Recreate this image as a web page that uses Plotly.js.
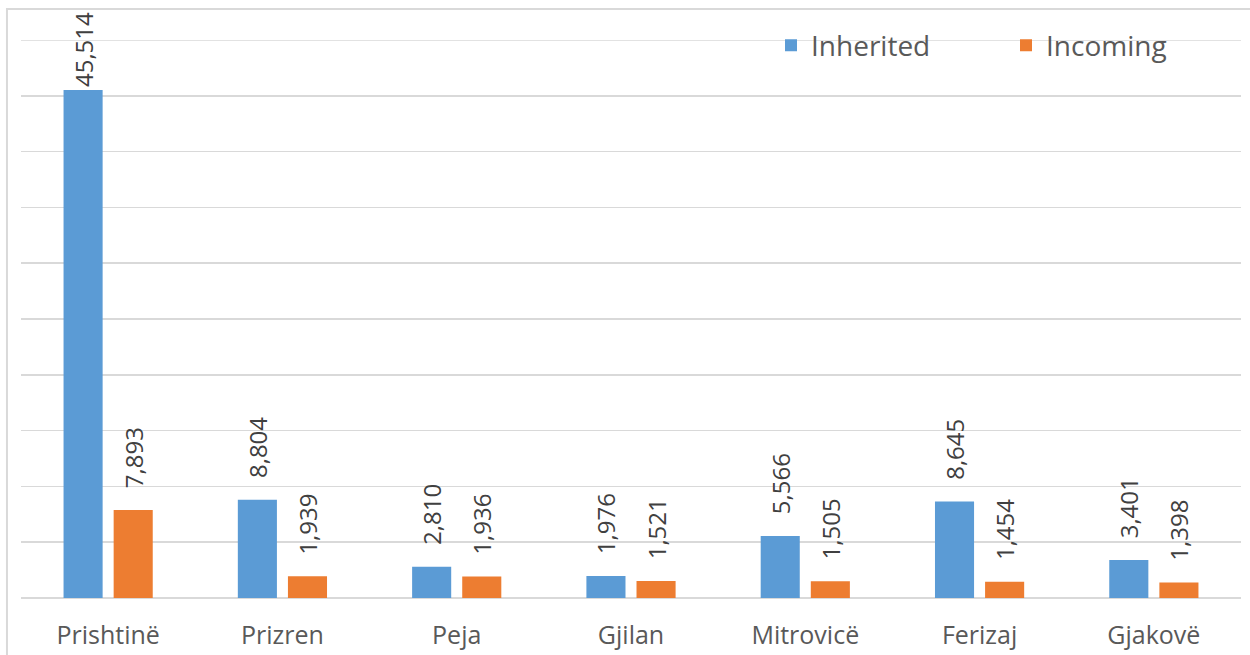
<!DOCTYPE html>
<html>
<head>
<meta charset="utf-8">
<script src="https://cdn.plot.ly/plotly-3.0.1.min.js"></script>
<style>html,body{margin:0;padding:0;background:#fff;}#chart{width:1250px;height:655px;}</style>
</head>
<body>
<div id="chart"></div>
<script>
const categories = ["Prishtinë", "Prizren", "Peja", "Gjilan", "Mitrovicë", "Ferizaj", "Gjakovë"];
const inherited = [45514, 8804, 2810, 1976, 5566, 8645, 3401];
const incoming = [7893, 1939, 1936, 1521, 1505, 1454, 1398];
const seriesNames = ["Inherited", "Incoming"];

const FONT = "Open Sans, Lato, sans-serif";
const labelFont = {family: FONT, size: 24, color: "#404040"};
const YMAX = 50000;
const PAD = "\u00a0\u00a0\u00a0";
// Labels sit a little above bars; labels that would leave the chart area stay unpadded
const tmpl = vals => vals.map(v => (v > 0.8 * YMAX ? "" : PAD) + "%{y:,}");

const traces = [
  {type: "bar", name: seriesNames[0], x: categories, y: inherited,
   marker: {color: "#5b9bd5"}, texttemplate: tmpl(inherited), textposition: "outside",
   textangle: -90, textfont: labelFont, cliponaxis: false, constraintext: "none", hoverinfo: "none"},
  {type: "bar", name: seriesNames[1], x: categories, y: incoming,
   marker: {color: "#ed7d31"}, texttemplate: tmpl(incoming), textposition: "outside",
   textangle: -90, textfont: labelFont, cliponaxis: false, constraintext: "none", hoverinfo: "none"}
];

const layout = {
  width: 1250, height: 655,
  margin: {l: 21, r: 9, t: 40, b: 57},
  paper_bgcolor: "#fff", plot_bgcolor: "#fff",
  barmode: "group", bargap: 0.425, bargroupgap: 0.22,
  showlegend: true,
  legend: {orientation: "h", x: 1, xanchor: "right", y: 0.99, yanchor: "middle",
           font: {family: FONT, size: 28, color: "#595959"}, bgcolor: "rgba(0,0,0,0)",
           entrywidth: 190, traceorder: "normal"},
  xaxis: {tickfont: {family: FONT, size: 25, color: "#595959"}, showline: false, ticks: "",
          ticklabelstandoff: 20, showgrid: false, fixedrange: true},
  yaxis: {range: [0, YMAX], dtick: 5000, showticklabels: false, showgrid: true,
          gridcolor: "#d9d9d9", gridwidth: 1.5, zeroline: true, zerolinecolor: "#d9d9d9",
          zerolinewidth: 1.5, ticks: "", fixedrange: true},
  shapes: [
    {type: "rect", xref: "paper", yref: "paper", x0: -0.0115, x1: 1.05, y0: -0.3, y1: 1.0556,
     line: {color: "#d9d9d9", width: 2}, fillcolor: "rgba(0,0,0,0)", layer: "below"},
    {type: "line", xref: "paper", yref: "y", x0: 0, x1: 1, y0: YMAX, y1: YMAX,
     line: {color: "#d9d9d9", width: 1.5}, layer: "below"}
  ]
};

Plotly.newPlot("chart", traces, layout, {displayModeBar: false, staticPlot: true});
</script>
</body>
</html>
